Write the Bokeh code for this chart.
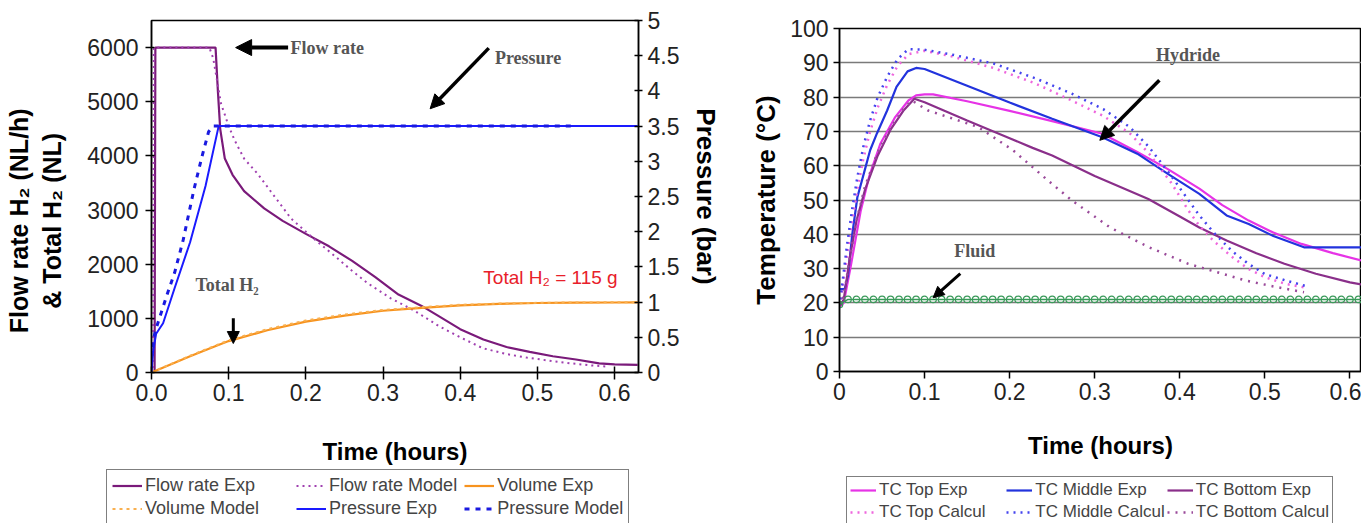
from bokeh.plotting import figure
from bokeh.layouts import row, column
from bokeh.models import (Range1d, LinearAxis, FixedTicker, Legend, LegendItem,
                          Arrow, NormalHead, Label)
from bokeh.embed import file_html
from bokeh.resources import INLINE

# ---------------- data: left chart ----------------
time_ticks = [0.0, 0.1, 0.2, 0.3, 0.4, 0.5, 0.6]
flow_ticks = [0, 1000, 2000, 3000, 4000, 5000, 6000]
pres_ticks = [0, 0.5, 1, 1.5, 2, 2.5, 3, 3.5, 4, 4.5, 5]

flow_exp_t = [0.0, 0.004, 0.005, 0.02, 0.05, 0.083, 0.086, 0.089, 0.095, 0.105, 0.12, 0.146,
              0.17, 0.2, 0.23, 0.26, 0.29, 0.32, 0.35, 0.37, 0.4, 0.43, 0.46, 0.49, 0.52,
              0.55, 0.58, 0.6, 0.63]
flow_exp = [0, 0, 6000, 6000, 6000, 6000, 5200, 4500, 3950, 3650, 3350, 3030,
            2800, 2560, 2330, 2060, 1760, 1440, 1230, 1060, 800, 610, 470, 380, 300,
            240, 170, 150, 140]

flow_mod_t = [0.0, 0.002, 0.003, 0.075, 0.08, 0.09, 0.1, 0.108, 0.12, 0.138, 0.16, 0.181,
              0.212, 0.24, 0.258, 0.28, 0.31, 0.34, 0.372, 0.4, 0.429, 0.46, 0.486, 0.52,
              0.543, 0.57, 0.59]
flow_mod = [0, 0, 6000, 6000, 5800, 4970, 4550, 4280, 3950, 3660, 3240, 2840,
            2450, 2120, 1900, 1650, 1370, 1147, 860, 650, 450, 340, 276, 210,
            170, 130, 110]

vol_t = [0, 0.02, 0.05, 0.085, 0.1, 0.15, 0.2, 0.25, 0.3, 0.35, 0.4, 0.45, 0.5, 0.55, 0.6, 0.63]
vol_exp = [0, 120, 300, 500, 580, 780, 940, 1050, 1140, 1195, 1240, 1267, 1283, 1290, 1293, 1295]
vol_mod = [0, 125, 310, 510, 595, 800, 960, 1070, 1155, 1205, 1250, 1272, 1287, 1293, 1296, 1298]

pres_exp_t = [0, 0.002, 0.006, 0.015, 0.03, 0.05, 0.07, 0.087, 0.63]
pres_exp = [0, 0.3, 0.55, 0.7, 1.2, 1.85, 2.65, 3.5, 3.5]
pres_mod_t = [0, 0.003, 0.007, 0.02, 0.03, 0.041, 0.055, 0.065, 0.074, 0.08, 0.55]
pres_mod = [0.2, 0.5, 0.66, 1.1, 1.42, 1.88, 2.6, 3.05, 3.42, 3.5, 3.5]

# ---------------- data: right chart ----------------
temp_ticks = [0, 10, 20, 30, 40, 50, 60, 70, 80, 90, 100]

top_exp_t = [0, 0.005, 0.013, 0.025, 0.035, 0.048, 0.065, 0.081, 0.09, 0.1, 0.11, 0.15, 0.2,
             0.25, 0.309, 0.35, 0.386, 0.423, 0.45, 0.481, 0.51, 0.543, 0.58, 0.623]
top_exp = [19, 20, 30.4, 46.9, 57, 66.4, 74, 79, 80.5, 80.8, 80.8, 78.8, 76,
           73, 69.3, 64, 59, 53.3, 48.5, 44, 40.5, 37.2, 34.5, 31.8]

mid_exp_t = [0, 0.006, 0.01, 0.015, 0.021, 0.03, 0.036, 0.044, 0.056, 0.067, 0.08, 0.09, 0.1,
             0.15, 0.2, 0.25, 0.309, 0.35, 0.386, 0.423, 0.455, 0.481, 0.51, 0.546, 0.623]
mid_exp = [24, 24, 28, 40, 50.8, 59, 64.5, 69.4, 76.1, 83, 87.5, 88.5, 88.2,
           83.3, 78.4, 73.7, 68.3, 63.5, 57.6, 51.8, 45.5, 43, 39.5, 36.2, 36.2]

bot_exp_t = [0, 0.005, 0.012, 0.02, 0.03, 0.045, 0.06, 0.075, 0.088, 0.1, 0.15, 0.2, 0.227,
             0.25, 0.3, 0.363, 0.4, 0.423, 0.455, 0.49, 0.523, 0.56, 0.6, 0.623]
bot_exp = [19, 21, 33, 44, 53, 63, 70.5, 76, 79.5, 78.5, 73.2, 68, 65.2,
           63, 57, 50.3, 45.2, 42, 38.2, 34.5, 31.4, 28.5, 26, 25]

calc_t = [0, 0.004, 0.009, 0.015, 0.021, 0.028, 0.036, 0.045, 0.056, 0.068, 0.081, 0.1, 0.13,
          0.181, 0.23, 0.273, 0.31, 0.341, 0.364, 0.39, 0.41, 0.423, 0.44, 0.461, 0.48, 0.5,
          0.525, 0.547]
mid_calc = [19, 27, 37.2, 47.5, 56.7, 65.5, 73.2, 80, 85.9, 91, 94, 93.8, 92.5,
            89.8, 85.5, 81, 76.5, 71.3, 65.4, 57, 50, 45.5, 40.5, 35.2, 31.5, 28.4,
            26.5, 25]
top_calc = [19, 25, 34, 44, 53, 62, 70, 77, 83.5, 89, 92.5, 93.5, 92,
            88.5, 84, 79, 74.5, 69.5, 63.5, 55, 47, 42.5, 38, 33.5, 30, 27.5,
            25.5, 24.5]

bot_calc_t = [0, 0.005, 0.012, 0.02, 0.03, 0.045, 0.06, 0.075, 0.085, 0.104, 0.13, 0.163, 0.204,
              0.245, 0.273, 0.318, 0.364, 0.41, 0.45, 0.478, 0.51, 0.546]
bot_calc = [19, 22, 33, 44, 54, 64, 71, 76.5, 79, 76.1, 74, 71.3, 64.5,
            55.7, 49.9, 42, 36.2, 31.4, 28.5, 26.5, 24.8, 23.1]

fluid_t = [0.00, 0.01, 0.02, 0.03, 0.04, 0.05, 0.06, 0.07, 0.08, 0.09, 0.10, 0.11, 0.12,
           0.13, 0.14, 0.15, 0.16, 0.17, 0.18, 0.19, 0.20, 0.21, 0.22, 0.23, 0.24, 0.25,
           0.26, 0.27, 0.28, 0.29, 0.30, 0.31, 0.32, 0.33, 0.34, 0.35, 0.36, 0.37, 0.38,
           0.39, 0.40, 0.41, 0.42, 0.43, 0.44, 0.45, 0.46, 0.47, 0.48, 0.49, 0.50, 0.51,
           0.52, 0.53, 0.54, 0.55, 0.56, 0.57, 0.58, 0.59, 0.60, 0.61, 0.62]
fluid_T = [19.5, 21, 21, 21, 21, 21, 21, 21, 21, 21, 21, 21, 21,
           21, 21, 21, 21, 21, 21, 21, 21, 21, 21, 21, 21, 21,
           21, 21, 21, 21, 21, 21, 21, 21, 21, 21, 21, 21, 21,
           21, 21, 21, 21, 21, 21, 21, 21, 21, 21, 21, 21, 21,
           21, 21, 21, 21, 21, 21, 21, 21, 21, 21, 21]

SANS = "Liberation Sans"
SERIF = "Liberation Serif"
TICK_FS = "23px"
XTITLE_FS = "24px"
YTITLE_FS = "26px"
NB = "\u00a0"
NOTE = dict(text_font=SERIF, text_font_style="bold", text_color="#555555",
            text_font_size="18px", text_baseline="middle")

# line styles (shared by plots and legend figures)
S_FE = dict(line_color="#7a1a7a", line_width=2.2)
S_FM = dict(line_color="#a040b0", line_width=2, line_dash="2 4")
S_VE = dict(line_color="#f7931e", line_width=2.2)
S_VM = dict(line_color="#f9b050", line_width=2, line_dash="3 4")
S_PE = dict(line_color="#1a1aff", line_width=2)
S_PM = dict(line_color="#1a1ae0", line_width=3, line_dash="5 6")
S_TE = dict(line_color="#e633e6", line_width=2.2)
S_ME = dict(line_color="#2233dd", line_width=2.2)
S_BE = dict(line_color="#8a2f8a", line_width=2.2)
S_TC = dict(line_color="#ee66dd", line_width=2.5, line_dash="2 5")
S_MC = dict(line_color="#4444ee", line_width=2.5, line_dash="2 5")
S_BC = dict(line_color="#9a4a9a", line_width=2.5, line_dash="2 6")


def style_axis(ax, tin=0, tout=6, title_fs=XTITLE_FS):
    ax.axis_line_color = "black"
    ax.axis_line_width = 1.5
    ax.major_tick_line_color = "black"
    ax.major_tick_line_width = 1.5
    ax.major_tick_in = tin
    ax.major_tick_out = tout
    ax.minor_tick_line_color = None
    ax.major_label_text_font = SANS
    ax.major_label_text_font_size = TICK_FS
    ax.major_label_text_color = "#222222"
    ax.axis_label_text_font = SANS
    ax.axis_label_text_font_size = title_fs
    ax.axis_label_text_font_style = "bold"
    ax.axis_label_text_color = "black"


def legend_fig(width, height, left, top, items, fs, lh, gw, sp, pad):
    # a figure that only shows a legend; its lines use the real series but
    # lie outside its (far away) ranges, so only the legend glyphs are seen
    f = figure(width=width, height=height, x_range=Range1d(-10, -9), y_range=Range1d(-10, -9),
               output_backend="svg", toolbar_location=None, frame_align=False,
               x_axis_location=None, y_axis_location=None,
               min_border_left=left, min_border_right=0,
               min_border_top=top, min_border_bottom=0)
    f.grid.visible = False
    f.outline_line_color = None
    litems = []
    for label, xs, ys, style in items:
        r = f.line(xs, ys, **style)
        litems.append(LegendItem(label=label, renderers=[r]))
    leg = Legend(items=litems, location="top_left", orientation="horizontal", ncols=3)
    leg.label_text_font = SANS
    leg.label_text_font_size = fs
    leg.label_height = lh
    leg.glyph_height = lh
    leg.glyph_width = gw
    leg.label_standoff = 3
    leg.spacing = sp
    leg.padding = pad
    leg.margin = 1
    leg.border_line_color = "black"
    leg.border_line_width = 1.5
    leg.background_fill_alpha = 1
    f.add_layout(leg)
    return f


# ---------------- left figure ----------------
p1 = figure(width=748, height=468, x_range=Range1d(0, 0.631), y_range=Range1d(0, 6500),
            output_backend="svg", toolbar_location=None, frame_align=False,
            min_border_left=151, min_border_right=110, min_border_top=20, min_border_bottom=96)
p1.grid.visible = False
p1.outline_line_color = "black"
p1.outline_line_width = 1.5
p1.extra_y_ranges = {"pres": Range1d(0, 5)}

p1.xaxis.ticker = FixedTicker(ticks=time_ticks)
p1.xaxis.major_label_overrides = {t: "%.1f" % t for t in time_ticks}
p1.xaxis.axis_label = "Time (hours)"
p1.xaxis.major_label_standoff = 4
p1.xaxis.axis_label_standoff = 34
style_axis(p1.xaxis[0], tin=6, tout=7)

p1.yaxis.ticker = FixedTicker(ticks=flow_ticks)
p1.yaxis.axis_label = ("Flow rate H\u2082 (NL/h)" + NB * 7 + "\n& Total H\u2082 (NL)" + NB * 7)
p1.yaxis.major_label_standoff = 7
p1.yaxis.axis_label_standoff = 18
style_axis(p1.yaxis[0], tin=3, tout=6, title_fs="25px")

ax_r = LinearAxis(y_range_name="pres", axis_label="Pressure (bar)")
ax_r.ticker = FixedTicker(ticks=pres_ticks)
ax_r.major_label_overrides = {t: ("%g" % t) for t in pres_ticks}
ax_r.major_label_standoff = 5
ax_r.axis_label_standoff = 9
style_axis(ax_r, tin=4, tout=4, title_fs=YTITLE_FS)
p1.add_layout(ax_r, "right")

p1.line(flow_exp_t, flow_exp, **S_FE)
p1.line(flow_mod_t, flow_mod, **S_FM)
p1.line(vol_t, vol_exp, **S_VE)
p1.line(vol_t, vol_mod, **S_VM)
p1.line(pres_exp_t, pres_exp, y_range_name="pres", **S_PE)
p1.line(pres_mod_t, pres_mod, y_range_name="pres", **S_PM)

head = dict(fill_color="black", line_color="black")
p1.add_layout(Arrow(end=NormalHead(size=16, **head), x_start=0.177, y_start=6000,
                    x_end=0.109, y_end=6000, line_width=4, line_color="black"))
p1.add_layout(Label(x=0.18, y=6000, text="Flow   rate", **NOTE))
p1.add_layout(Arrow(end=NormalHead(size=14, **head), x_start=0.437, y_start=5990,
                    x_end=0.361, y_end=4870, line_width=3.5, line_color="black"))
p1.add_layout(Label(x=0.445, y=5810, text="Pressure", **NOTE))
p1.add_layout(Arrow(end=NormalHead(size=12, **head), x_start=0.106, y_start=1000,
                    x_end=0.106, y_end=535, line_width=3, line_color="black"))
p1.add_layout(Label(x=0.057, y=1620, text="Total  H\u2082", **NOTE))
p1.add_layout(Label(x=0.43, y=1750, text="Total H\u2082 = 115 g", text_font=SANS,
                    text_color="#e8202a", text_font_size="19px", text_baseline="middle"))

lf1 = legend_fig(748, 55, 105, 0, [
    ("Flow rate Exp", flow_exp_t, flow_exp, S_FE),
    ("Flow rate Model" + NB, flow_mod_t, flow_mod, S_FM),
    ("Volume Exp", vol_t, vol_exp, S_VE),
    ("Volume Model" + NB * 7, vol_t, vol_mod, S_VM),
    ("Pressure Exp", pres_exp_t, pres_exp, S_PE),
    ("Pressure Model", pres_mod_t, pres_mod, S_PM)],
    "18px", 21, 30, 2, 5)

# ---------------- right figure ----------------
p2 = figure(width=613, height=468, x_range=Range1d(0, 0.6136), y_range=Range1d(0, 100),
            output_backend="svg", toolbar_location=None, frame_align=False,
            min_border_left=88, min_border_right=0, min_border_top=28, min_border_bottom=97)
p2.xgrid.visible = False
p2.ygrid.grid_line_color = "#7a7a7a"
p2.ygrid.grid_line_width = 1.5
p2.outline_line_color = "black"
p2.outline_line_width = 1.5

p2.xaxis.ticker = FixedTicker(ticks=time_ticks)
p2.xaxis.major_label_overrides = {t: ("%g" % t) for t in time_ticks}
p2.xaxis.axis_label = "Time (hours)"
p2.xaxis.major_label_standoff = 4
p2.xaxis.axis_label_standoff = 29
style_axis(p2.xaxis[0], tin=0, tout=7)

p2.yaxis.ticker = FixedTicker(ticks=temp_ticks)
p2.yaxis.axis_label = "Temperature (\u00b0C)"
p2.yaxis.major_label_standoff = 5
p2.yaxis.axis_label_standoff = 6
style_axis(p2.yaxis[0], tin=0, tout=6, title_fs=YTITLE_FS)

p2.line(top_exp_t, top_exp, **S_TE)
p2.line(mid_exp_t, mid_exp, **S_ME)
p2.line(bot_exp_t, bot_exp, **S_BE)
p2.line(calc_t, top_calc, **S_TC)
p2.line(calc_t, mid_calc, **S_MC)
p2.line(bot_calc_t, bot_calc, **S_BC)
p2.line(fluid_t, fluid_T, line_color="#3a9a5a", line_width=1.5)
p2.scatter(fluid_t, fluid_T, marker="circle", size=6.5, line_color="#3a9a5a", fill_color=None,
           line_width=1.2)

p2.add_layout(Arrow(end=NormalHead(size=14, **head), x_start=0.376, y_start=84.9,
                    x_end=0.306, y_end=67.4, line_width=3.5, line_color="black"))
p2.add_layout(Label(x=0.372, y=92.3, text="Hydride", **NOTE))
p2.add_layout(Arrow(end=NormalHead(size=11, **head), x_start=0.142, y_start=28.5,
                    x_end=0.110, y_end=21.5, line_width=3, line_color="black"))
p2.add_layout(Label(x=0.135, y=35.2, text="Fluid", **NOTE))

lf2 = legend_fig(613, 55, 97, 7, [
    ("TC Top Exp", top_exp_t, top_exp, S_TE),
    ("TC Middle Exp", mid_exp_t, mid_exp, S_ME),
    ("TC Bottom Exp", bot_exp_t, bot_exp, S_BE),
    ("TC Top Calcul" + NB * 4, calc_t, top_calc, S_TC),
    ("TC Middle Calcul", calc_t, mid_calc, S_MC),
    ("TC Bottom Calcul", bot_calc_t, bot_calc, S_BC)],
    "17px", 18, 26, 2, 3)

layout = row(column(p1, lf1), column(p2, lf2))
open("out.html", "w").write(file_html(layout, INLINE))
